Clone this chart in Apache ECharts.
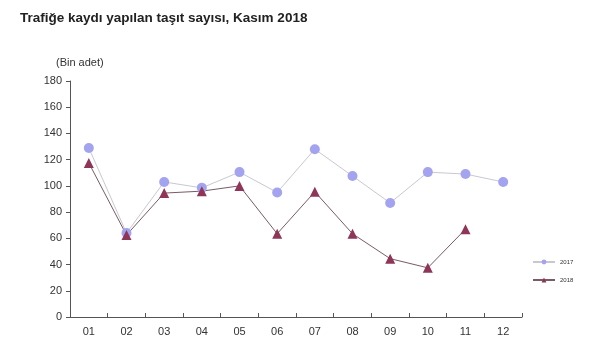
<!DOCTYPE html>
<html><head><meta charset="utf-8">
<script src="https://cdn.jsdelivr.net/npm/echarts@6/dist/echarts.min.js"></script>
<style>html,body{margin:0;padding:0;background:#fff}#c{width:600px;height:356px}</style>
</head><body><div id="c"></div>
<script>
const categories = ['01','02','03','04','05','06','07','08','09','10','11','12'];
const values2017 = [128.9, 64, 103, 98.5, 110.5, 95, 128, 107.5, 87, 110.5, 109, 103];
const values2018 = [117.5, 62.5, 94.5, 96, 100, 63.5, 95.5, 63.5, 44.5, 37.5, 67];
const seriesNames = ['2017', '2018'];

const chart = echarts.init(document.getElementById('c'));
const font = 'Liberation Sans, Arial, sans-serif';
chart.setOption({
  animation: false,
  backgroundColor: '#ffffff',
  title: {
    text: 'Trafiğe kaydı yapılan taşıt sayısı, Kasım 2018',
    left: 15, top: 6,
    textStyle: {fontFamily: font, fontSize: 13.5, fontWeight: 'bold', color: '#222'}
  },
  grid: {left: 70, right: 78, top: 81, bottom: 39, containLabel: false},
  legend: {
    orient: 'vertical', left: 527, top: 254, itemGap: 12,
    itemWidth: 22, itemHeight: 6,
    textStyle: {fontFamily: font, fontSize: 6, color: '#333'},
    data: seriesNames
  },
  graphic: [{type: 'text', left: 56, top: 57,
    style: {text: '(Bin adet)', fontFamily: font, fontSize: 11, fill: '#333'}}],
  xAxis: {
    type: 'category', data: categories, boundaryGap: true,
    axisLine: {lineStyle: {color: '#555', width: 1}},
    axisTick: {show: true, inside: true, length: 4, lineStyle: {color: '#555'}},
    axisLabel: {fontFamily: font, fontSize: 11, color: '#333', margin: 9}
  },
  yAxis: {
    type: 'value', min: 0, max: 180, interval: 20,
    splitLine: {show: false},
    axisLine: {show: true, lineStyle: {color: '#555', width: 1}},
    axisTick: {show: true, length: 4, lineStyle: {color: '#555'}},
    axisLabel: {fontFamily: font, fontSize: 11, color: '#333', margin: 8}
  },
  series: [
    {name: seriesNames[0], type: 'line', data: values2017,
     symbol: 'circle', symbolSize: 10,
     itemStyle: {color: '#a3a3f0'},
     lineStyle: {color: '#c8c8d4', width: 1}},
    {name: seriesNames[1], type: 'line', data: values2018,
     symbol: 'triangle', symbolSize: 10,
     itemStyle: {color: '#8e3558'},
     lineStyle: {color: '#7a5a66', width: 1}}
  ]
});
</script></body></html>
